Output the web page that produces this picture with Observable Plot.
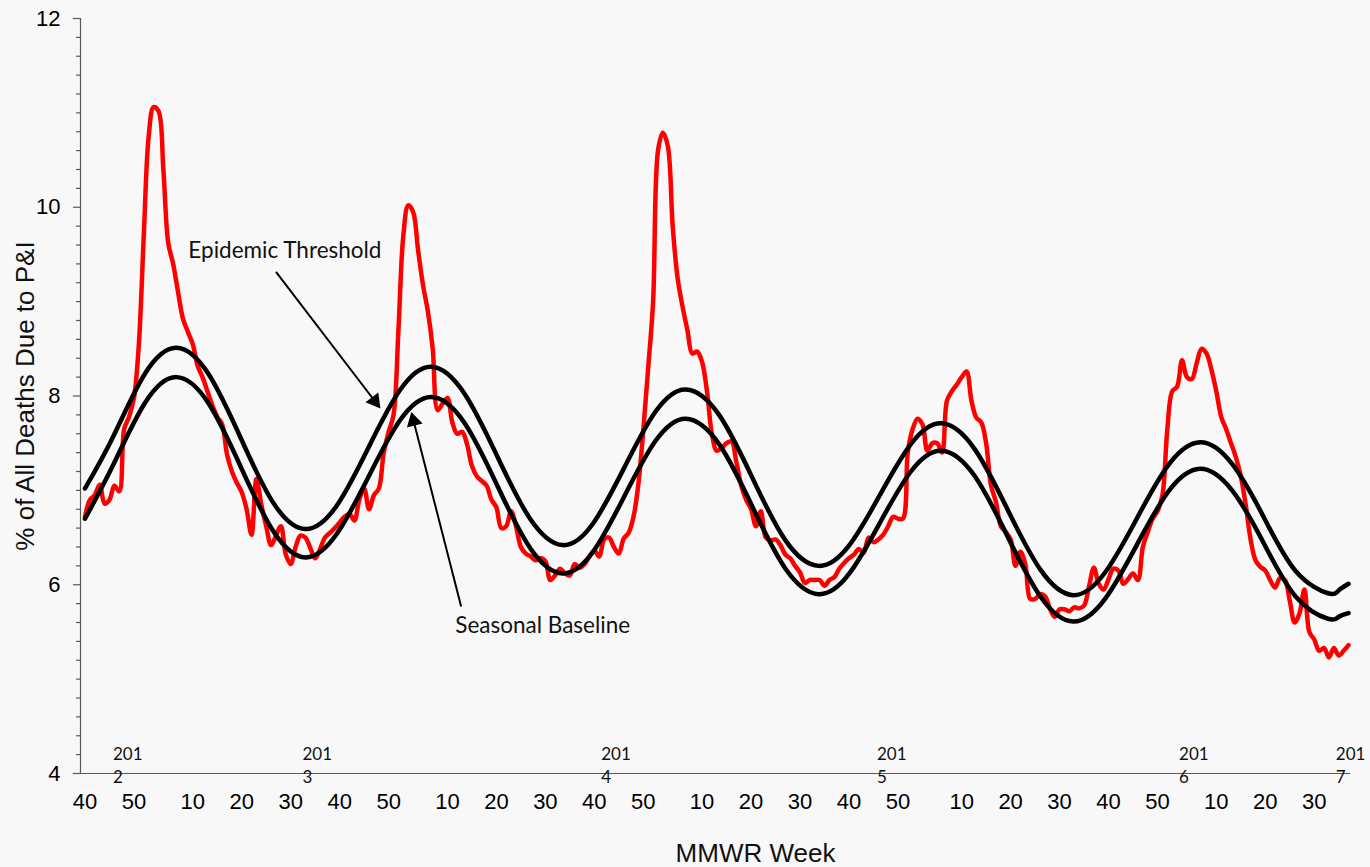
<!DOCTYPE html>
<html>
<head>
<meta charset="utf-8">
<script src="https://cdn.jsdelivr.net/npm/d3@7"></script>
<script src="https://cdn.jsdelivr.net/npm/@observablehq/plot@0.6"></script>
<style>
  html, body { margin: 0; padding: 0; background: #f8f8f8; }
</style>
</head>
<body>
<div id="chart"></div>
<script>
// ---- Calendar (MMWR weeks), season starts 2011 week 40 ----
const startYear = 2011;
const startWeek = 40;
const weeksInYear = {2011: 52, 2012: 52, 2013: 52, 2014: 53, 2015: 52, 2016: 52, 2017: 52};
function weekIndex(year, week) {
  let idx = 0;
  for (let y = startYear; y < year; y++) idx += weeksInYear[y] - (y === startYear ? startWeek - 1 : 0);
  return idx + week - (year === startYear ? startWeek : 1);
}

// ---- X tick labels ----
const tickYears = [2011, 2011, 2012, 2012, 2012, 2012, 2012, 2013, 2013, 2013, 2013, 2013,
                   2014, 2014, 2014, 2014, 2014, 2015, 2015, 2015, 2015, 2015, 2016, 2016, 2016];
const tickWeeks = [40, 50, 10, 20, 30, 40, 50, 10, 20, 30, 40, 50,
                   10, 20, 30, 40, 50, 10, 20, 30, 40, 50, 10, 20, 30];

// ---- Year labels (position in week index, as placed in the original) ----
const yearLabels = ["2012", "2013", "2014", "2015", "2016", "2017"];
const yearLabelPos = [5.7, 44.4, 105.4, 161.7, 223.4, 255.4];

// ---- Y ticks ----
const yTicks = [4, 6, 8, 10, 12];

// ---- % of deaths due to P&I, weekly from 2011 wk 40 ----
const piPercent = [
  6.72, 6.90, 6.95, 7.06, 6.86, 6.90, 7.05, 6.99, 7.65, 7.78,
  7.98, 8.55, 9.70, 10.75, 11.06, 11.02, 10.40, 9.62, 9.40, 9.10,
  8.82, 8.68, 8.55, 8.32, 8.20, 8.05, 7.90, 7.78, 7.70, 7.38,
  7.20, 7.08, 6.98, 6.80, 6.53, 7.12, 6.85, 6.62, 6.42, 6.52,
  6.62, 6.32, 6.22, 6.40, 6.52, 6.50, 6.39, 6.28, 6.38, 6.50,
  6.55, 6.60, 6.66, 6.72, 6.75, 6.68, 6.90, 7.02, 6.80, 6.95,
  7.02, 7.40, 7.62, 7.80, 8.70, 9.70, 10.02, 9.95, 9.55, 9.18,
  8.90, 8.50, 7.85, 7.92, 7.98, 7.72, 7.60, 7.62, 7.49, 7.26,
  7.15, 7.10, 7.05, 6.90, 6.82, 6.60, 6.62, 6.78, 6.62, 6.40,
  6.33, 6.30, 6.26, 6.28, 6.25, 6.05, 6.10, 6.17, 6.12, 6.10,
  6.22, 6.18, 6.22, 6.30, 6.36, 6.30, 6.48, 6.50, 6.40, 6.33,
  6.49, 6.55, 6.72, 7.07, 7.64, 8.30, 9.00, 10.60, 10.79, 10.65,
  9.80, 9.25, 8.95, 8.70, 8.45, 8.47, 8.36, 8.05, 7.60, 7.42,
  7.45, 7.50, 7.52, 7.30, 7.05, 6.90, 6.80, 6.62, 6.78, 6.50,
  6.47, 6.48, 6.42, 6.32, 6.28, 6.20, 6.13, 6.02, 6.05, 6.05,
  6.05, 5.99, 6.05, 6.08, 6.17, 6.23, 6.28, 6.32, 6.38, 6.34,
  6.50, 6.45, 6.48, 6.53, 6.62, 6.72, 6.70, 6.70, 7.40, 7.65,
  7.76, 7.70, 7.42, 7.50, 7.50, 7.40, 7.95, 8.05, 8.12, 8.20,
  8.26, 7.95, 7.77, 7.72, 7.50, 7.05, 6.88, 6.62, 6.56, 6.48,
  6.20, 6.35, 6.22, 5.85, 5.85, 5.90, 5.88, 5.75, 5.66, 5.74,
  5.74, 5.72, 5.76, 5.75, 5.78, 5.98, 6.18, 6.01, 5.95, 6.06,
  6.17, 6.15, 6.01, 6.06, 6.12, 6.05, 6.40, 6.56, 6.70, 6.78,
  6.95, 7.65, 8.05, 8.10, 8.38, 8.20, 8.18, 8.35, 8.50, 8.45,
  8.28, 8.05, 7.78, 7.65, 7.50, 7.35, 7.15, 6.85, 6.48, 6.26,
  6.19, 6.15, 6.05, 5.97, 6.07, 6.05, 5.83, 5.60, 5.70, 5.95,
  5.50, 5.42, 5.30, 5.33, 5.23, 5.33, 5.25, 5.30, 5.36
];

// ---- Seasonal baseline & epidemic threshold (read at peaks, troughs and between) ----
const curveWeekIdx = [0, 5.67, 12.17, 18.67, 25.25, 31.84, 38.42, 45.0, 51.43, 57.85, 64.28,
  70.7, 77.43, 84.15, 90.88, 97.6, 103.88, 110.15, 116.43, 122.7, 129.48, 136.25, 143.03,
  149.8, 156.08, 162.35, 168.63, 174.9, 181.63, 188.35, 195.08, 201.8, 208.28, 214.75,
  221.23, 227.7, 234.23, 240.75, 247.28, 253.8, 256, 258];
const epidemicThreshold = [7.02, 7.56, 8.23, 8.51, 8.23, 7.55, 6.87, 6.59, 6.84, 7.45, 8.06,
  8.31, 8.03, 7.365, 6.70, 6.42, 6.66, 7.245, 7.83, 8.07, 7.80, 7.135, 6.47,
  6.20, 6.42, 6.955, 7.49, 7.71, 7.44, 6.80, 6.16, 5.89, 6.13, 6.70,
  7.27, 7.51, 7.28, 6.71, 6.14, 5.91, 5.94, 6.01];
const seasonalBaseline = [6.70, 7.26, 7.92, 8.20, 7.92, 7.245, 6.57, 6.29, 6.54, 7.14, 7.74,
  7.99, 7.72, 7.055, 6.39, 6.12, 6.36, 6.94, 7.52, 7.76, 7.49, 6.83, 6.17,
  5.90, 6.12, 6.66, 7.20, 7.42, 7.155, 6.515, 5.875, 5.61, 5.85, 6.42,
  6.99, 7.23, 7.00, 6.435, 5.87, 5.64, 5.66, 5.70];

// ---- Annotations ----
const annoText = ["Epidemic Threshold", "Seasonal Baseline"];
const annoTextX = [21.1, 75.6];
const annoTextY = [9.54, 5.57];
const arrowFromX = [39.0, 76.8];
const arrowFromY = [9.315, 5.77];
const arrowHeadX = [59.16, 67.1];
const arrowHeadY = [7.947, 7.736];
const arrowAngle = [142.6, -14.4];

// ---- Build tables ----
const piData = piPercent.map((v, i) => ({i, v}));
const thrData = curveWeekIdx.map((i, k) => ({i, v: epidemicThreshold[k]}));
const baseData = curveWeekIdx.map((i, k) => ({i, v: seasonalBaseline[k]}));
const tickIdx = tickYears.map((y, k) => weekIndex(y, tickWeeks[k]));
const tickLabel = new Map(tickIdx.map((d, k) => [d, String(tickWeeks[k])]));
const yearData = yearLabels.map((s, k) => ({x: yearLabelPos[k], t: s.slice(0, 3) + "\n" + s.slice(3)}));
const annoData = annoText.map((t, k) => ({t, x: annoTextX[k], y: annoTextY[k]}));
const arrowData = arrowFromX.map((x1, k) => ({x1, y1: arrowFromY[k], x2: arrowHeadX[k], y2: arrowHeadY[k], r: arrowAngle[k]}));
const minorTicks = d3.range(4, 12.001, 0.2).map(d => +d.toFixed(1)).filter(d => !yTicks.includes(d));
const xDomain = [-0.92, 258.4];

const W = 1370, ML = 80, MR = 20;
const frameW = W - ML - MR;
const axisColor = "#595959";

const chart = Plot.plot({
  width: W,
  height: 867,
  marginLeft: ML,
  marginRight: MR,
  marginTop: 18,
  marginBottom: 94,
  style: {background: "#f8f8f8", fontFamily: "'Liberation Sans', Arial, sans-serif", overflow: "visible"},
  x: {domain: xDomain, axis: null},
  y: {domain: [4, 12], axis: null},
  marks: [
    // minor and major y ticks (short rules just left of the axis)
    Plot.ruleY(minorTicks, {y: d => d, insetRight: frameW - 4, dx: -4, stroke: axisColor, strokeWidth: 1.2}),
    Plot.ruleY(yTicks, {y: d => d, insetRight: frameW - 7, dx: -7, stroke: axisColor, strokeWidth: 1.2}),
    Plot.axisY(yTicks, {tickSize: 0, tickPadding: 20, fontSize: 22, tickFormat: d => String(d), fill: "#000", label: null}),
    Plot.axisX(tickIdx, {tickSize: 0, tickPadding: 20, fontSize: 22, tickFormat: d => tickLabel.get(d), fill: "#000", label: null}),
    Plot.ruleX([xDomain[0]], {stroke: axisColor, strokeWidth: 1.2}),
    Plot.ruleY([4], {stroke: axisColor, strokeWidth: 1.2, insetLeft: -7}),
    Plot.text(yearData, {x: "x", frameAnchor: "bottom", dy: -30, text: "t", textAnchor: "start", lineAnchor: "top",
      lineHeight: 1.35, fontSize: 17, fontFamily: "Lato, 'Open Sans', sans-serif", fill: "#111"}),
    Plot.line(piData, {x: "i", y: "v", stroke: "#ff0000", strokeWidth: 4.5, curve: "catmull-rom"}),
    Plot.line(thrData, {x: "i", y: "v", stroke: "#000", strokeWidth: 4.5, curve: "natural"}),
    Plot.line(baseData, {x: "i", y: "v", stroke: "#000", strokeWidth: 4.5, curve: "natural"}),
    Plot.link(arrowData, {x1: "x1", y1: "y1", x2: "x2", y2: "y2", stroke: "#000", strokeWidth: 2}),
    Plot.dot(arrowData, {x: "x2", y: "y2", symbol: "triangle", r: 6, fill: "#000", stroke: "none", rotate: "r"}),
    Plot.text(annoData, {x: "x", y: "y", text: "t", textAnchor: "start", lineAnchor: "middle", fontSize: 22.5,
      fontFamily: "Lato, 'Open Sans', sans-serif", fill: "#111"}),
    Plot.text(["% of All Deaths Due to P&I"], {frameAnchor: "left", dx: -55, rotate: -90, fontSize: 26,
      textAnchor: "middle", lineAnchor: "middle", fill: "#111"}),
    Plot.text(["MMWR Week"], {frameAnchor: "bottom", dx: 40, dy: 80, fontSize: 26, lineAnchor: "middle", fill: "#111"})
  ]
});
document.getElementById("chart").appendChild(chart);
</script>
</body>
</html>
